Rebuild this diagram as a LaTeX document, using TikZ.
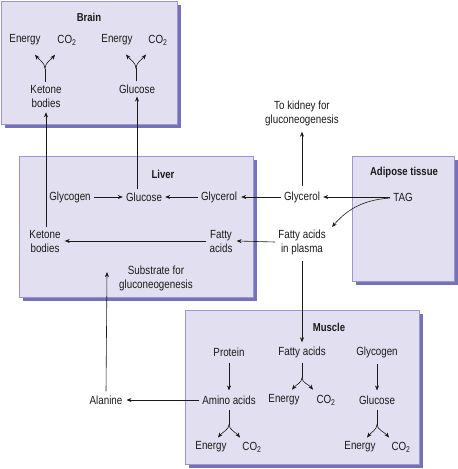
\documentclass[tikz,border=0pt]{standalone}
\usepackage{fontspec}
\setmainfont{Liberation Sans}[FakeStretch=0.83]
\usetikzlibrary{arrows.meta}
\definecolor{boxfill}{HTML}{E2E0F0}
\definecolor{boxline}{HTML}{9A96CF}
\definecolor{boxshadow}{HTML}{7672B8}
\definecolor{ink}{HTML}{1A1A1A}
\tikzset{
  organ/.style={fill=boxfill, draw=boxline, line width=1pt},
  shade/.style={fill=boxshadow, draw=none},
  lbl/.style={inner sep=0pt, align=center, font=\fontsize{11.8}{14}\selectfont, text=ink},
  ttl/.style={lbl, font=\fontsize{11.5}{14}\selectfont\bfseries},
  arr/.style={draw=ink, line width=0.6pt, -{Stealth[length=5pt,width=4pt]}},
  ln/.style={draw=ink, line width=0.6pt},
}
\newcommand{\cotwo}{CO\textsubscript{2}}
\begin{document}
\begin{tikzpicture}[x=1pt,y=-1pt]
\useasboundingbox (0,0) rectangle (458,469);
% boxes with shadows
\fill[shade] (5,5) rectangle (181,128);
\draw[organ] (1,1) rectangle (177,124);
\fill[shade] (23,160) rectangle (257,301);
\draw[organ] (19,156) rectangle (253,297);
\fill[shade] (356,160) rectangle (458,285);
\draw[organ] (352,156) rectangle (454,281);
\fill[shade] (189,314) rectangle (423,468);
\draw[organ] (185,310) rectangle (419,464);

% Brain
\node[ttl] (brain) at (89,17) {Brain};
\node[lbl] (be1) at (25,40) {Energy};
\node[lbl] (bc1) at (67,40) {\cotwo};
\node[lbl] (be2) at (117,40) {Energy};
\node[lbl] (bc2) at (158,40) {\cotwo};
\node[lbl] (bkb) at (46,96) {Ketone\\bodies};
\node[lbl] (bglc) at (137,89) {Glucose};

% Liver
\node[ttl] (liver) at (163,174) {Liver};
\node[lbl] (lgly) at (70,197) {Glycogen};
\node[lbl] (lglc) at (144,197) {Glucose};
\node[lbl] (lglyc) at (219,197) {Glycerol};
\node[lbl] (lkb) at (45,241) {Ketone\\bodies};
\node[lbl] (lfa) at (221,241) {Fatty\\acids};
\node[lbl] (lsub) at (156,278.5) {Substrate for\\gluconeogenesis};

% Plasma / outer
\node[lbl] (kid) at (302,113) {To kidney for\\gluconeogenesis};
\node[lbl] (glyc) at (302,197) {Glycerol};
\node[lbl] (fap) at (302,242) {Fatty acids\\in plasma};

% Adipose
\node[ttl] (adip) at (404,173) {Adipose tissue};
\node[lbl] (tag) at (403,197) {TAG};

% Muscle
\node[ttl] (musc) at (329,327) {Muscle};
\node[lbl] (prot) at (229,352) {Protein};
\node[lbl] (mfa) at (302,352) {Fatty acids};
\node[lbl] (mgly) at (377,352) {Glycogen};
\node[lbl] (amino) at (229,400) {Amino acids};
\node[lbl] (me1) at (284,400) {Energy};
\node[lbl] (mc1) at (326,400) {\cotwo};
\node[lbl] (mglc) at (377,400) {Glucose};
\node[lbl] (me2) at (211,447) {Energy};
\node[lbl] (mc2) at (252,447) {\cotwo};
\node[lbl] (me3) at (360,447) {Energy};
\node[lbl] (mc3) at (401,447) {\cotwo};
\node[lbl] (ala) at (106,400) {Alanine};

% Liver internal arrows
\draw[arr] ([xshift=3pt]lgly.east) -- ([xshift=-3pt]lglc.west);
\draw[arr] ([xshift=-3pt]lglyc.west) -- ([xshift=3pt]lglc.east);
\draw[arr] ([xshift=-3pt]glyc.west) -- ([xshift=4pt]lglyc.east);
\draw[arr] ([xshift=-3pt]fap.west) -- ([xshift=4pt]lfa.east);
\draw[arr] ([xshift=-3pt]lfa.west) -- ([xshift=4pt]lkb.east);

% Liver to brain
\draw[arr] ([xshift=1pt,yshift=3pt]lkb.north) -- ([yshift=-5pt]bkb.south);
\draw[arr] ([xshift=-7pt,yshift=3pt]lglc.north) -- ([yshift=-3pt]bglc.south);

% Brain forks
\draw[ln] ([xshift=-1pt,yshift=3pt]bkb.north) -- ++(0,-13) coordinate (bk1);
\draw[arr] (bk1) .. controls ++(0,-6) and ++(4,5) .. ++(-10,-14);
\draw[arr] (bk1) .. controls ++(0,-6) and ++(-4,5) .. ++(10,-14);
\draw[ln] ([xshift=-1pt,yshift=3pt]bglc.north) -- ++(0,-13) coordinate (bg1);
\draw[arr] (bg1) .. controls ++(0,-6) and ++(4,5) .. ++(-10,-14);
\draw[arr] (bg1) .. controls ++(0,-6) and ++(-4,5) .. ++(10,-14);

% Glycerol to kidney
\draw[arr] ([yshift=5pt]glyc.north) -- ([yshift=-6pt]kid.south);

% TAG arrows
\draw[arr] ([xshift=-3pt]tag.west) -- ([xshift=3pt]glyc.east);
\draw[arr] ([xshift=-3pt,yshift=-1pt]tag.west) .. controls (360,200) and (345,212) .. (332,227);

% Plasma to muscle
\draw[arr] ([yshift=-6pt]fap.south) -- ([yshift=4pt]mfa.north);

% Muscle arrows
\draw[arr] ([yshift=-6pt]prot.south) -- ([yshift=5pt]amino.north);
\draw[arr] ([yshift=-6pt]mgly.south) -- ([yshift=5pt]mglc.north);
\draw[arr] ([xshift=-3pt]amino.west) -- ([xshift=4pt]ala.east);
\draw[arr] ([yshift=4pt]ala.north) -- (107,272);

% Muscle forks
\draw[ln] ([yshift=-5pt]mfa.south) -- ++(0,15) coordinate (mf1);
\draw[arr] (mf1) .. controls ++(0,5) and ++(4,-5) .. ++(-10,12);
\draw[arr] (mf1) .. controls ++(0,5) and ++(-4,-5) .. ++(11,12);
\draw[ln] ([yshift=-5pt]amino.south) -- ++(0,15) coordinate (ma1);
\draw[arr] (ma1) .. controls ++(0,5) and ++(4,-5) .. ++(-11,13);
\draw[arr] (ma1) .. controls ++(0,5) and ++(-4,-5) .. ++(11,13);
\draw[ln] ([yshift=-5pt]mglc.south) -- ++(0,15) coordinate (mg1);
\draw[arr] (mg1) .. controls ++(0,5) and ++(4,-5) .. ++(-10,13);
\draw[arr] (mg1) .. controls ++(0,5) and ++(-4,-5) .. ++(12,13);
\end{tikzpicture}
\end{document}
